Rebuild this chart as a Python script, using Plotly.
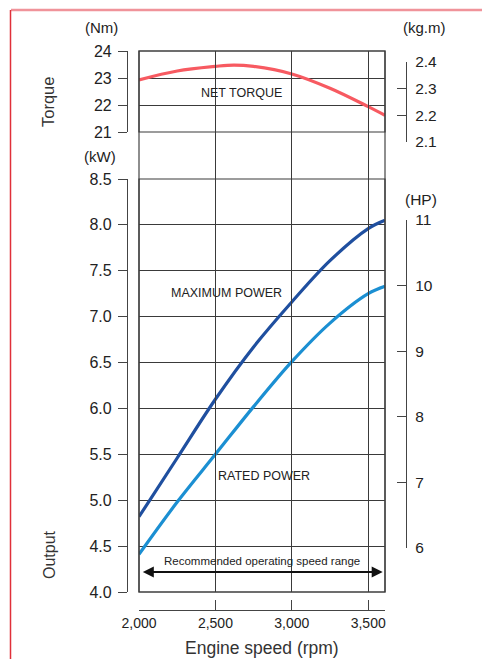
import plotly.graph_objects as go

# ---------------- data ----------------
rpm = [2000, 2250, 2500, 2620, 2750, 3000, 3250, 3500, 3610]
torque_nm = [22.93, 23.26, 23.43, 23.48, 23.43, 23.15, 22.62, 21.94, 21.62]
rpm_p = [2000, 2250, 2500, 2750, 3000, 3250, 3500, 3610]
max_power_kw = [4.82, 5.46, 6.10, 6.67, 7.16, 7.61, 7.96, 8.05]
rated_power_kw = [4.41, 4.98, 5.50, 6.02, 6.51, 6.93, 7.25, 7.33]

x_ticks = [2000, 2500, 3000, 3500]
x_ticktext = ["2,000", "2,500", "3,000", "3,500"]
nm_ticks = [21, 22, 23, 24]
kw_ticks = [4.0, 4.5, 5.0, 5.5, 6.0, 6.5, 7.0, 7.5, 8.0, 8.5]
kgm_ticks = [2.1, 2.2, 2.3, 2.4]
hp_ticks = [6, 7, 8, 9, 10, 11]
range_rpm = [2015, 3595]

# ---------------- layout helpers ----------------
W, H = 482, 659
def px(x):
    return x / W
def py(y):
    return 1 - y / H

FONT = "Liberation Sans, Arial, sans-serif"
TXT = "#222222"
GRID = "#3a3a3a"
RED = "#f75a61"
DARK = "#1f4f9f"
LIGHT = "#1b8fd2"

fig = go.Figure()
fig.add_trace(go.Scatter(x=rpm, y=torque_nm, mode="lines", line=dict(color=RED, width=3.2, shape="spline"),
                         xaxis="x", yaxis="y", showlegend=False, hoverinfo="skip"))
fig.add_trace(go.Scatter(x=rpm_p, y=max_power_kw, mode="lines", line=dict(color=DARK, width=3.2, shape="spline"),
                         xaxis="x", yaxis="y2", showlegend=False, hoverinfo="skip"))
fig.add_trace(go.Scatter(x=rpm_p, y=rated_power_kw, mode="lines", line=dict(color=LIGHT, width=3.2, shape="spline"),
                         xaxis="x", yaxis="y2", showlegend=False, hoverinfo="skip"))
# dummy traces so the secondary axes / frame subplot are drawn
for ya in ["y3", "y4", "y5"]:
    fig.add_trace(go.Scatter(x=[None], y=[None], xaxis="x", yaxis=ya, showlegend=False, hoverinfo="skip"))

xdom = [px(139), px(385)]
common_y = dict(showline=True, linecolor="#444", linewidth=1.2, tickcolor="#444", tickwidth=1.2,
                ticklen=9, zeroline=False, fixedrange=True, automargin=False)
left_font = dict(family=FONT, size=16, color=TXT)
right_font = dict(family=FONT, size=15.5, color=TXT)

fig.update_layout(
    template="none",
    width=W, height=H, margin=dict(l=0, r=0, t=0, b=0, pad=0), autosize=False,
    paper_bgcolor="white", plot_bgcolor="rgba(0,0,0,0)",
    xaxis=dict(domain=xdom, range=[2000, 3610], tickvals=x_ticks, ticktext=x_ticktext,
               anchor="free", position=py(610), showline=True, linecolor="#444", linewidth=1.2,
               ticks="inside", ticklen=10, tickcolor="#444", tickwidth=1.2,
               tickfont=dict(family=FONT, size=14, color=TXT), automargin=False,
               showgrid=True, gridcolor=GRID, gridwidth=1.2, zeroline=False, fixedrange=True),
    yaxis=dict(domain=[py(132), py(51)], range=[21, 24], tickvals=nm_ticks, tickfont=left_font,
               anchor="free", position=px(127), side="left", ticks="outside",
               showgrid=True, gridcolor=GRID, gridwidth=1.2, ticklabelstandoff=3, **common_y),
    yaxis2=dict(domain=[py(592), py(179)], range=[4, 8.5], tickvals=kw_ticks, tickformat=".1f",
                tickfont=left_font,
                anchor="free", position=px(127), side="left", ticks="outside",
                showgrid=True, gridcolor=GRID, gridwidth=1.2, ticklabelstandoff=3, **common_y),
    yaxis3=dict(domain=[py(142), py(62)], range=[2.1, 2.4], tickvals=kgm_ticks, tickformat=".1f",
                tickfont=right_font,
                anchor="free", position=px(406), side="right", ticks="inside",
                showgrid=False, ticklabelstandoff=5, **common_y),
    yaxis4=dict(domain=[py(548), py(220)], range=[6, 11], tickvals=hp_ticks, tickfont=right_font,
                anchor="free", position=px(406), side="right", ticks="inside",
                showgrid=False, ticklabelstandoff=5, **common_y),
    yaxis5=dict(domain=[py(592), py(51)], range=[0, 1], visible=False, anchor="x",
                fixedrange=True, automargin=False),
)

# frames around the panels
shapes = [
    dict(type="rect", xref="x domain", yref="y5 domain", x0=0, x1=1, y0=0, y1=1,
         line=dict(color="#444", width=1.2)),
    dict(type="rect", xref="x domain", yref="y domain", x0=0, x1=1, y0=0, y1=1,
         line=dict(color=GRID, width=1.2)),
    dict(type="rect", xref="x domain", yref="y2 domain", x0=0, x1=1, y0=0, y1=1,
         line=dict(color=GRID, width=1.2)),
    # decorative red page frame
    dict(type="line", xref="paper", yref="paper", x0=px(11), x1=1, y0=py(10), y1=py(10),
         line=dict(color="#f0939a", width=2.5)),
    dict(type="line", xref="paper", yref="paper", x0=px(10.5), x1=px(10.5), y0=py(10), y1=0,
         line=dict(color="#e0303a", width=1.5)),
]
fig.update_layout(shapes=shapes)

def ann(text, x, y, size, angle=0, color=TXT):
    return dict(text=text, x=px(x), y=py(y), xref="paper", yref="paper", showarrow=False,
                xanchor="center", yanchor="middle", textangle=angle,
                font=dict(family=FONT, size=size, color=color))

arrow_y = (592 - 572) / (592 - 51)  # in y5 domain units

annotations = [
    ann("(Nm)", 101, 28, 15),
    ann("(kW)", 100, 157, 15),
    ann("(kg.m)", 424, 28, 15),
    ann("(HP)", 421, 199, 15.5),
    ann("Torque", 48, 102, 16.5, angle=-90, color="#333"),
    ann("Output", 49, 555, 16, angle=-90, color="#333"),
    ann("NET TORQUE", 241, 93, 12.5),
    ann("MAXIMUM POWER", 226, 293, 12.5),
    ann("RATED POWER", 264, 476, 12.5),
    ann("Recommended operating speed range", 262, 561, 11.5),
    ann("Engine speed (rpm)", 262, 648, 17.5, color="#333"),
    # double-headed arrow for the recommended range
    dict(x=range_rpm[1], y=arrow_y, ax=range_rpm[0], ay=arrow_y, xref="x", yref="y5 domain",
         axref="x", ayref="y5 domain",
         text="", showarrow=True, arrowhead=2, startarrowhead=2, arrowside="end+start",
         arrowsize=1, arrowwidth=2.2, arrowcolor="#111", standoff=0, startstandoff=0),
]
fig.update_layout(annotations=annotations)

fig.write_html("out.html", config={"displayModeBar": False},
               post_script="document.body.style.margin='0';document.body.style.padding='0';"
                           "document.documentElement.style.overflow='hidden';")
